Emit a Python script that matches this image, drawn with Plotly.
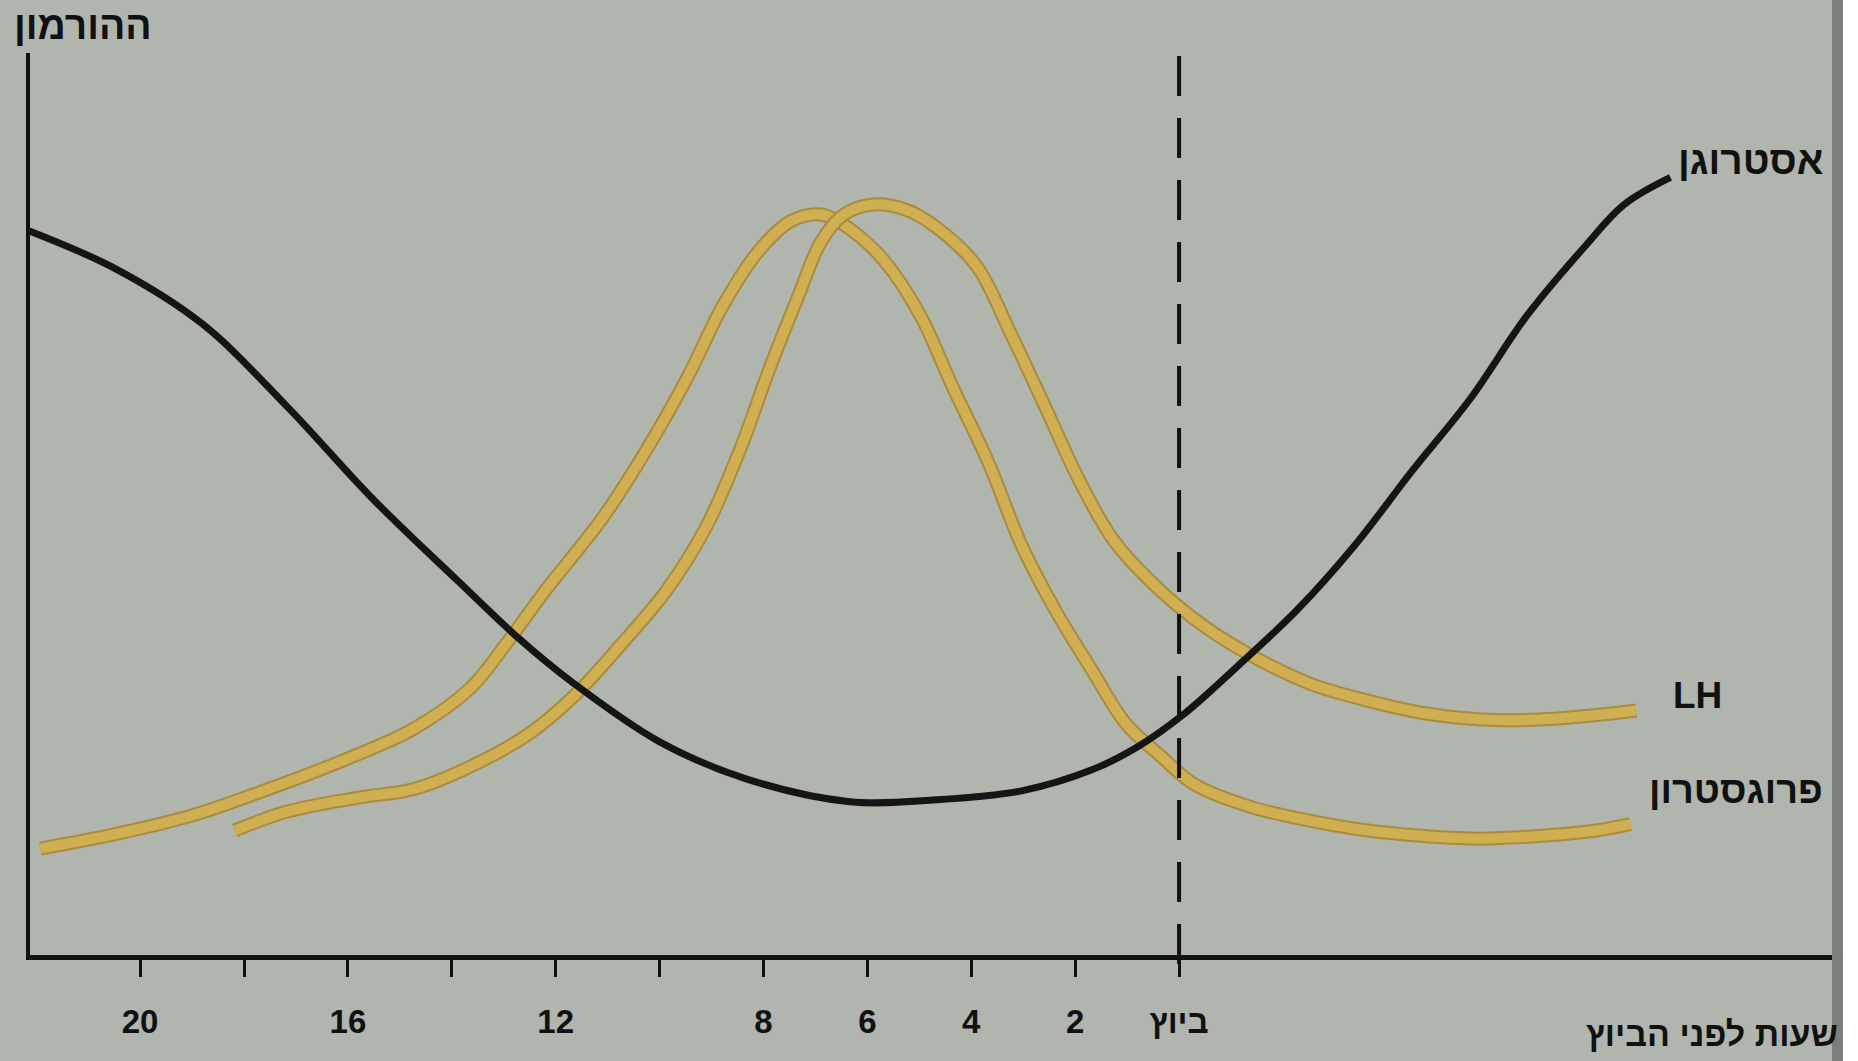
"""
Hormone levels in the hours before ovulation (estrogen, LH, progesterone)
"""

import plotly.graph_objects as go

# hours relative to ovulation (negative = before)
estrogen_hours = [-22.19, -20.48, -18.81, -17.17, -15.51, -13.87, -12.75, -11.65, -9.99, -8.32,
                  -6.34, -4.68, -3.03, -1.69, -0.82, 0.07, 1.16, 2.28, 3.38, 4.49,
                  5.61, 6.70, 7.82, 8.57, 9.46]
estrogen_level = [80.4, 76.1, 70.0, 60.8, 50.5, 41.4, 35.3, 30.1, 23.6, 19.5,
                  17.0, 17.2, 18.2, 20.5, 23.0, 26.6, 32.2, 38.3, 45.4, 53.7,
                  61.7, 70.9, 78.6, 83.2, 86.2]

lh_hours = [-18.18, -17.17, -15.85, -14.73, -13.64, -12.52, -11.65, -10.76, -9.87, -9.10,
            -8.44, -7.89, -7.34, -6.89, -6.45, -5.88, -5.25, -4.68, -3.90, -3.24,
            -2.58, -1.92, -1.25, -0.36, 0.52, 1.39, 2.51, 3.63, 4.72, 5.82,
            6.93, 8.03, 8.80]
lh_level = [13.8, 15.9, 17.4, 18.4, 20.9, 24.5, 28.7, 34.3, 40.4, 47.5,
            56.2, 64.9, 72.9, 79.1, 82.1, 83.2, 82.6, 80.7, 76.4, 68.9,
            60.8, 52.6, 45.9, 40.4, 36.3, 33.2, 30.1, 28.2, 26.8, 26.1,
            26.1, 26.6, 27.1]

progesterone_hours = [-21.92, -20.48, -19.04, -17.72, -16.08, -14.73, -13.64, -12.98, -12.20, -11.08,
                      -10.19, -9.44, -8.78, -8.10, -7.46, -6.89, -6.34, -5.68, -4.99, -4.36,
                      -3.67, -3.03, -2.35, -1.69, -1.03, -0.36, 0.30, 1.39, 2.51, 3.63,
                      4.72, 5.82, 6.93, 8.03, 8.69]
progesterone_level = [11.8, 13.4, 15.4, 18.0, 21.6, 25.1, 29.6, 34.3, 40.4, 48.6,
                      56.6, 64.3, 72.0, 78.0, 81.4, 82.1, 80.5, 77.0, 71.0, 63.0,
                      54.6, 45.4, 37.9, 31.7, 25.7, 22.1, 18.9, 16.4, 14.9, 13.8,
                      13.2, 12.9, 13.2, 13.8, 14.5]

tick_hours = [-20, -18, -16, -14, -12, -10, -8, -6, -4, -2, 0]
tick_text = ["20", "", "16", "", "12", "", "8", "6", "4", "2", "ביוץ"]

BG = "#b0b5ae"
GOLD_EDGE = "#aa8b3e"
GOLD = "#d0ae52"
FONT = "Liberation Sans"

fig = go.Figure()

# the yellow curves get a darker edge under a lighter core, like the printed strokes
for hours, level in [(progesterone_hours, progesterone_level), (lh_hours, lh_level)]:
    fig.add_trace(go.Scatter(x=hours, y=level, mode="lines",
                             line=dict(color=GOLD_EDGE, width=14, shape="spline", smoothing=1.0),
                             hoverinfo="skip"))
    fig.add_trace(go.Scatter(x=hours, y=level, mode="lines",
                             line=dict(color=GOLD, width=10, shape="spline", smoothing=1.0)))

fig.add_trace(go.Scatter(x=estrogen_hours, y=estrogen_level, mode="lines",
                         line=dict(color="#151515", width=7, shape="spline", smoothing=1.0)))

# ovulation marker
fig.add_shape(type="line", xref="x", yref="paper", x0=0, x1=0, y0=-0.01, y1=1.02,
              line=dict(color="#111111", width=4, dash="40px,22px"))

# edge of the photographed page on the right
fig.add_shape(type="rect", xref="paper", yref="paper", x0=0.9858, x1=0.9918, y0=-0.2, y1=1.1,
              line=dict(width=0), fillcolor="#7b7f7c", layer="above")
fig.add_shape(type="rect", xref="paper", yref="paper", x0=0.9918, x1=1.0, y0=-0.2, y1=1.1,
              line=dict(width=0), fillcolor="#ffffff", layer="above")

labels = [
    ("אסטרוגן", 0.982, 0.881, "right", 39),
    ("LH", 0.8977, 0.288, "left", 37),
    ("פרוגסטרון", 0.982, 0.183, "right", 38),
    ("ההורמון", 0.0678, 1.03, "right", 39),
    ("שעות לפני הביוץ", 0.99, -0.088, "right", 34),
]
for text, px, py, anchor, size in labels:
    fig.add_annotation(text=text, xref="paper", yref="paper", x=px, y=py,
                       xanchor=anchor, yanchor="middle", showarrow=False,
                       font=dict(family=FONT, size=size, color="#111111", weight="bold"))

fig.update_layout(
    width=1858, height=1061,
    margin=dict(l=30, r=0, t=53, b=106),
    paper_bgcolor=BG, plot_bgcolor=BG,
    showlegend=False,
    xaxis=dict(range=[-22.12, 13.07], showgrid=False, zeroline=False,
               showline=True, linecolor="#111111", linewidth=5,
               ticks="outside", ticklen=17, tickwidth=3, tickcolor="#111111",
               tickvals=tick_hours, ticktext=tick_text, ticklabelstandoff=16,
               tickfont=dict(family=FONT, size=33, color="#111111", weight="bold")),
    yaxis=dict(range=[0, 100], showgrid=False, zeroline=False,
               showline=True, linecolor="#111111", linewidth=4,
               showticklabels=False, ticks=""),
)

# drop the default page margin so the figure sits flush in the window
fig.write_html("out.html", config={"displayModeBar": False},
               post_script="document.body.style.margin='0';")
